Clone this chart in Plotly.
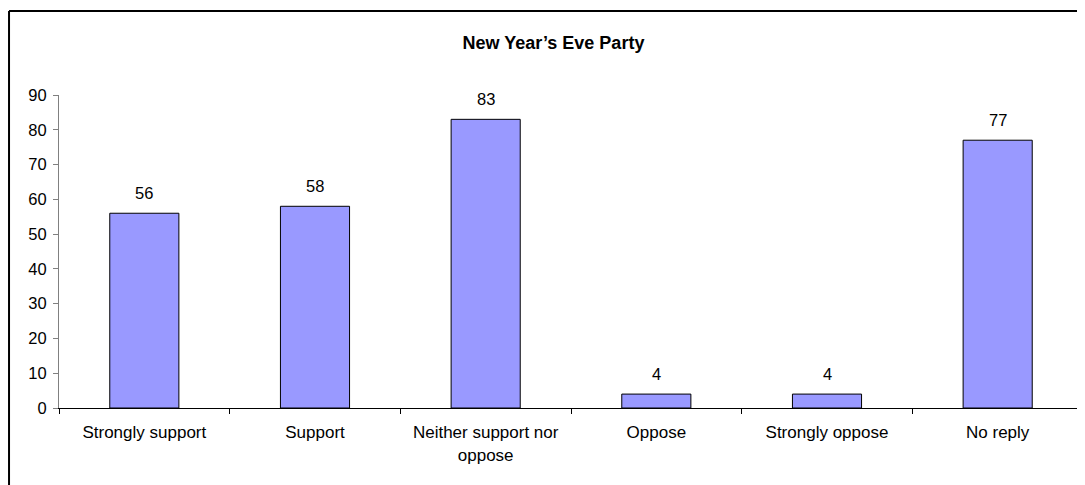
import plotly.graph_objects as go

categories = ["Strongly support", "Support", "Neither support nor<br>oppose", "Oppose", "Strongly oppose", "No reply"]
values = [56, 58, 83, 4, 4, 77]
y_ticks = [0, 10, 20, 30, 40, 50, 60, 70, 80, 90]

FONT = "Liberation Sans, Arial, sans-serif"
FS = 17

fig = go.Figure()
fig.add_trace(go.Bar(
    x=categories, y=values,
    marker=dict(color="#9999FF", line=dict(color="black", width=1)),
    width=0.405,
    hoverinfo="skip",
))

for c, v in zip(categories, values):
    fig.add_annotation(x=c, y=v, text=str(v), showarrow=False, yanchor="bottom",
                       yshift=9, font=dict(family=FONT, size=16.5, color="black"))

# chart frame (left and top visible)
fig.add_shape(type="line", xref="paper", yref="paper", x0=-0.0488, x1=-0.0488, y0=1.268, y1=-0.4,
              line=dict(color="black", width=2))
fig.add_shape(type="line", xref="paper", yref="paper", x0=-0.0488, x1=1.1, y0=1.268, y1=1.268,
              line=dict(color="black", width=2))

fig.update_layout(
    width=1077, height=477,
    margin=dict(l=51, r=2, t=87, b=77),
    paper_bgcolor="white", plot_bgcolor="white",
    showlegend=False,
    font=dict(family=FONT, size=FS, color="black"),
    title=dict(text="<b>New Year’s Eve Party</b>", x=0.5065, xanchor="center",
               y=1 - 35 / 477, yanchor="middle", yref="container",
               font=dict(family=FONT, size=18, color="black")),
    xaxis=dict(showline=True, linecolor="black", linewidth=1, ticks="outside",
               tickson="boundaries", ticklen=5, tickcolor="black", showgrid=False,
               automargin=False, ticklabelstandoff=9,
               tickfont=dict(family=FONT, size=FS, color="black"), fixedrange=True),
    yaxis=dict(range=[0, 90], tickvals=y_ticks, showline=True, linecolor="#808080",
               linewidth=1, ticks="outside", ticklen=5, tickcolor="#808080",
               showgrid=False, zeroline=False, automargin=False, ticklabelstandoff=3,
               tickfont=dict(family=FONT, size=16.5, color="black"), fixedrange=True),
    bargap=0.595,
)

fig.write_html("out.html")
